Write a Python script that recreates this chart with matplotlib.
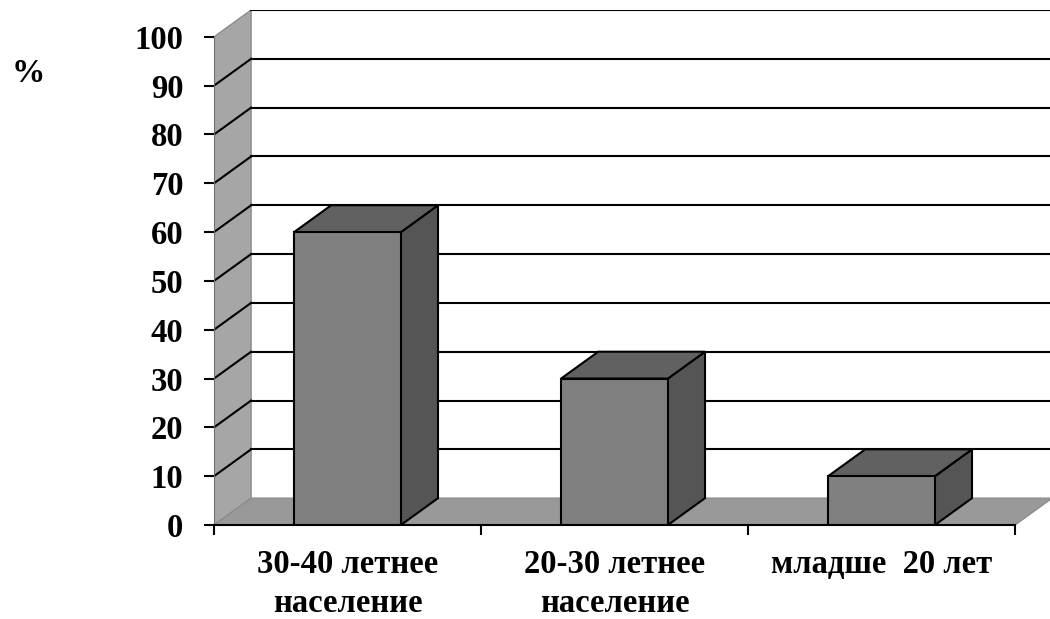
import matplotlib.pyplot as plt
from matplotlib.patches import Polygon

categories = ['30-40 летнее\nнаселение', '20-30 летнее\nнаселение', 'младше  20 лет']
values = [60, 30, 10]
yticks = [0, 10, 20, 30, 40, 50, 60, 70, 80, 90, 100]

# depth offset of the 3d box (x in category units, y in value units)
dx, dy = 0.139, 5.5
bar_w = 0.4

plt.rcParams['font.family'] = ['Liberation Serif', 'DejaVu Serif']
plt.rcParams['font.weight'] = 'bold'

fig = plt.figure(figsize=(10.5, 6.19), dpi=100)
ax = fig.add_axes([214 / 1050, 94 / 619, (1050 - 214) / 1050, 515 / 619])
ax.set_xlim(0, (1050 - 214) / 267)
ax.set_ylim(0, 100 + dy)

# side wall and floor
ax.add_patch(Polygon([(0, 0), (dx, dy), (dx, 100 + dy), (0, 100)],
                     closed=True, facecolor='#a6a6a6', edgecolor='#8c8c8c', lw=1, zorder=1))
ax.add_patch(Polygon([(0, 0), (3, 0), (3 + dx, dy), (dx, dy)],
                     closed=True, facecolor='#999999', edgecolor='#8c8c8c', lw=1, zorder=1))

# gridlines on back wall and side wall
for v in yticks[1:]:
    ax.plot([dx, 3 + dx + 1], [v + dy, v + dy], color='black', lw=1.5, zorder=2)
    if v < 100:
        ax.plot([0, dx], [v, v + dy], color='black', lw=1.5, zorder=2)

# 3d bars
for i, v in enumerate(values):
    x0 = i + 0.5 - bar_w / 2
    x1 = x0 + bar_w
    front = [(x0, 0), (x1, 0), (x1, v), (x0, v)]
    top = [(x0, v), (x1, v), (x1 + dx, v + dy), (x0 + dx, v + dy)]
    side = [(x1, 0), (x1 + dx, dy), (x1 + dx, v + dy), (x1, v)]
    ax.add_patch(Polygon(side, closed=True, facecolor='#555555', edgecolor='black', lw=1.5, zorder=3))
    ax.add_patch(Polygon(top, closed=True, facecolor='#616161', edgecolor='black', lw=1.5, zorder=3))
    ax.add_patch(Polygon(front, closed=True, facecolor='#808080', edgecolor='black', lw=1.5, zorder=4))

for s in ['top', 'right']:
    ax.spines[s].set_visible(False)
ax.spines['left'].set_bounds(0, 100)
ax.spines['left'].set_color('#707070')
ax.spines['bottom'].set_bounds(0, 3)
ax.spines['bottom'].set_linewidth(1.5)
ax.spines['bottom'].set_zorder(5)

ax.set_yticks(yticks)
ax.set_yticklabels([str(t) for t in yticks], fontsize=23.5, fontweight='bold')
ax.set_xticks([0, 1, 2, 3])
ax.set_xticklabels([])
ax.set_xticks([0.5, 1.5, 2.5], minor=True)
ax.set_xticklabels(categories, minor=True, fontsize=23.5, fontweight='bold', linespacing=1.35)
ax.tick_params(axis='y', direction='out', length=7, width=1.5, pad=15)
ax.tick_params(axis='x', which='major', direction='out', length=7, width=1.5)
ax.tick_params(axis='x', which='minor', length=0, pad=17)

fig.text(28 / 1050, 1 - 74 / 619, '%', fontsize=24, fontweight='bold', ha='center', va='center')

fig.savefig('out.png', dpi=100)
